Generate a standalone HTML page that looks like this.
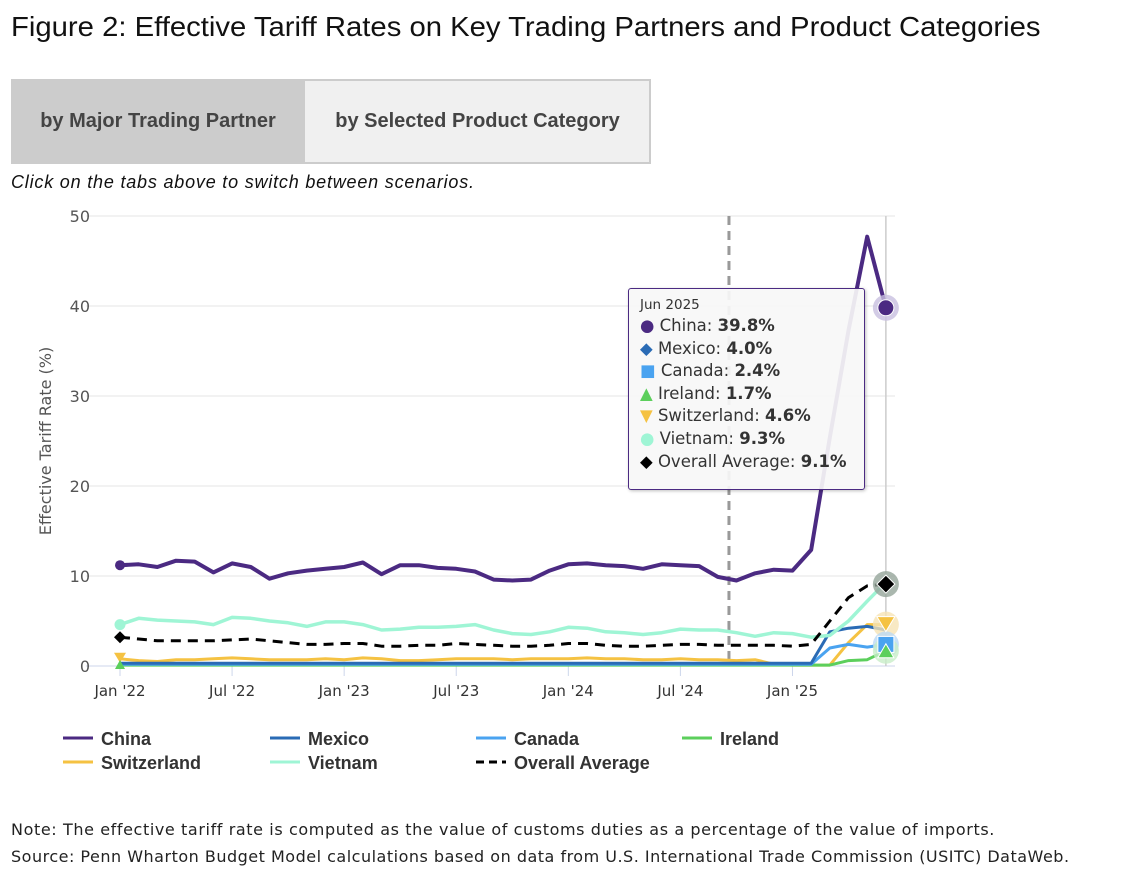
<!DOCTYPE html>
<html><head><meta charset="utf-8"><style>
body{margin:0;width:1138px;height:877px;background:#fff;font-family:"Liberation Sans",sans-serif;position:relative;overflow:hidden}
.abs{position:absolute}
</style></head><body>
<div class="abs" style="left:11px;top:11px;font-size:28px;color:#111;white-space:nowrap;transform:scaleX(1.045);transform-origin:left top">Figure 2: Effective Tariff Rates on Key Trading Partners and Product Categories</div>
<div class="abs" style="left:11px;top:79px;width:636px;height:81px;border:2px solid #ccc;background:#f0f0f0"></div>
<div class="abs" style="left:11px;top:79px;width:294px;height:85px;background:#ccc;font-size:20px;font-weight:bold;color:#444;line-height:85px;text-align:center">by Major Trading Partner</div>
<div class="abs" style="left:305px;top:79px;width:345px;height:85px;font-size:20px;font-weight:bold;color:#444;line-height:85px;text-align:center">by Selected Product Category</div>
<div class="abs" style="left:11px;top:172px;font-size:18px;letter-spacing:0.8px;font-style:italic;color:#111">Click on the tabs above to switch between scenarios.</div>
<svg class="abs" style="left:0;top:0" width="1138" height="877" id="chart"></svg>
<div class="abs" style="left:11px;top:820px;font-family:'DejaVu Sans',sans-serif;font-size:16px;letter-spacing:0.6px;color:#222;white-space:nowrap">Note: The effective tariff rate is computed as the value of customs duties as a percentage of the value of imports.</div>
<div class="abs" style="left:11px;top:847px;font-family:'DejaVu Sans',sans-serif;font-size:16px;letter-spacing:0.5px;color:#222;white-space:nowrap">Source: Penn Wharton Budget Model calculations based on data from U.S. International Trade Commission (USITC) DataWeb.</div>
<script>
const tickLabels=["Jan '22","Jul '22","Jan '23","Jul '23","Jan '24","Jul '24","Jan '25"];
const yTicks=[0,10,20,30,40,50];
const china=[11.2,11.3,11.0,11.7,11.6,10.4,11.4,11.0,9.7,10.3,10.6,10.8,11.0,11.5,10.2,11.2,11.2,10.9,10.8,10.5,9.6,9.5,9.6,10.6,11.3,11.4,11.2,11.1,10.8,11.3,11.2,11.1,9.9,9.5,10.3,10.7,10.6,12.9,25.4,37.3,47.7,39.8];
const mexico=[0.3,0.3,0.3,0.3,0.3,0.3,0.3,0.3,0.3,0.3,0.3,0.3,0.3,0.3,0.3,0.3,0.3,0.3,0.3,0.3,0.3,0.3,0.3,0.3,0.3,0.3,0.3,0.3,0.3,0.3,0.3,0.3,0.3,0.3,0.3,0.3,0.3,0.3,3.8,4.2,4.4,4.0];
const canada=[0.2,0.2,0.2,0.2,0.2,0.2,0.2,0.2,0.2,0.2,0.2,0.2,0.2,0.2,0.2,0.2,0.2,0.2,0.2,0.2,0.2,0.2,0.2,0.2,0.2,0.2,0.2,0.2,0.2,0.2,0.2,0.2,0.2,0.2,0.2,0.2,0.2,0.2,2.0,2.4,2.1,2.4];
const ireland=[0.1,0.1,0.1,0.1,0.1,0.1,0.1,0.1,0.1,0.1,0.1,0.1,0.1,0.1,0.1,0.1,0.1,0.1,0.1,0.1,0.1,0.1,0.1,0.1,0.1,0.1,0.1,0.1,0.1,0.1,0.1,0.1,0.1,0.1,0.1,0.1,0.1,0.1,0.1,0.6,0.7,1.7];
const switzerland=[0.8,0.6,0.5,0.7,0.7,0.8,0.9,0.8,0.7,0.7,0.7,0.8,0.7,0.9,0.8,0.6,0.6,0.7,0.8,0.8,0.8,0.7,0.8,0.8,0.8,0.9,0.8,0.8,0.7,0.7,0.8,0.7,0.7,0.6,0.7,0.2,0.1,0.1,0.1,2.6,4.6,4.6];
const vietnam=[4.6,5.3,5.1,5.0,4.9,4.6,5.4,5.3,5.0,4.8,4.4,4.9,4.9,4.6,4.0,4.1,4.3,4.3,4.4,4.6,4.0,3.6,3.5,3.8,4.3,4.2,3.8,3.7,3.5,3.7,4.1,4.0,4.0,3.7,3.3,3.7,3.6,3.2,3.4,5.0,7.2,9.3];
const overall=[3.2,3.0,2.8,2.8,2.8,2.8,2.9,3.0,2.8,2.6,2.4,2.4,2.5,2.5,2.2,2.2,2.3,2.3,2.5,2.4,2.3,2.2,2.2,2.3,2.5,2.5,2.3,2.2,2.2,2.3,2.4,2.4,2.3,2.3,2.3,2.3,2.2,2.4,5.0,7.6,8.9,9.1];
const NS='http://www.w3.org/2000/svg';
const svg=document.getElementById('chart');
const X=i=>120+i*18.68;
const Y=v=>666-v*9;
function el(tag,a,parent){const e=document.createElementNS(NS,tag);for(const k in a)e.setAttribute(k,a[k]);(parent||svg).appendChild(e);return e;}
yTicks.forEach(t=>{
 const g=el('line',{x1:86,x2:895,y1:Y(t),y2:Y(t),stroke:t===0?'#ccd6eb':'#e6e6e6','stroke-width':1});
 
 
 const tx=el('text',{x:90,y:Y(t)+6,'text-anchor':'end','font-size':16,fill:'#555','font-family':'DejaVu Sans, sans-serif'});tx.textContent=t;
 
 
});
tickLabels.forEach((l,i)=>{
 const x=X(i*6);
 el('line',{x1:x,x2:x,y1:666,y2:676,stroke:'#ccd6eb'});
 const tx=el('text',{x:x,y:696,'text-anchor':'middle','font-size':15,fill:'#333','font-family':'DejaVu Sans, sans-serif'});tx.textContent=l;
 
 
});
const yt=el('text',{transform:'translate(51,441) rotate(-90)','text-anchor':'middle','font-size':16,fill:'#555','font-family':'DejaVu Sans, sans-serif'});yt.textContent='Effective Tariff Rate (%)';


el('line',{x1:X(41),x2:X(41),y1:216,y2:666,stroke:'#ccc','stroke-width':1.5});
const vl=el('line',{x1:X(32.6),x2:X(32.6),y1:216,y2:666,stroke:'#999','stroke-width':3,'stroke-dasharray':'9,6'});


const series=[
 ['switzerland',switzerland,'#f5c242',3,null],
 ['ireland',ireland,'#5ccf5c',3,null],
 ['canada',canada,'#4aa3f0',3,null],
 ['mexico',mexico,'#2a6bb5',3,null],
 ['vietnam',vietnam,'#9ff5d5',3.5,null],
 ['overall-average',overall,'#000',3,'10,7'],
 ['china',china,'#4b2a82',4,null]];
series.forEach(s=>{
 const p=el('path',{d:s[1].map((v,i)=>(i?'L':'M')+X(i)+','+Y(v)).join(''),fill:'none',stroke:s[2],'stroke-width':s[3],'stroke-linejoin':'round'});
 if(s[4])p.setAttribute('stroke-dasharray',s[4]);
 
 
});
el('circle',{cx:X(0),cy:Y(china[0]),r:5,fill:'#4b2a82'});
el('circle',{cx:X(0),cy:Y(vietnam[0]),r:5.5,fill:'#9ff5d5'});
el('path',{d:`M${X(0)-6},${Y(overall[0])}l6,-6l6,6l-6,6z`,fill:'#000'});
el('path',{d:`M${X(0)-6},${Y(switzerland[0])-6}h12l-6,10z`,fill:'#f5c242'});
el('path',{d:`M${X(0)-5},${Y(0)+3}h10l-5,-9z`,fill:'#5ccf5c'});
const ex=X(41);
[[china[41],'#c8bfe0'],[overall[41],'#95a59a'],[switzerland[41],'#f6e3b5'],[canada[41],'#bcd9f5'],[ireland[41],'#c8edc8']].forEach(h=>el('circle',{cx:ex,cy:Y(h[0]),r:13,fill:h[1],opacity:0.8}));
el('circle',{cx:ex,cy:Y(china[41]),r:8,fill:'#4b2a82',stroke:'#fff','stroke-width':1});
el('path',{d:`M${ex-9},${Y(overall[41])}l9,-9l9,9l-9,9z`,fill:'#000',stroke:'#fff','stroke-width':1});
el('path',{d:`M${ex-9},${Y(switzerland[41])-8}h18l-9,15z`,fill:'#f5c242',stroke:'#fff'});
el('rect',{x:ex-8,y:Y(canada[41])-8,width:16,height:16,fill:'#4aa3f0',stroke:'#fff'});
el('path',{d:`M${ex-8},${Y(ireland[41])+7}h16l-8,-14z`,fill:'#5ccf5c',stroke:'#fff'});
const leg=[['China','#4b2a82',null,63,738],['Mexico','#2a6bb5',null,270,738],['Canada','#4aa3f0',null,476,738],['Ireland','#5ccf5c',null,682,738],['Switzerland','#f5c242',null,63,762],['Vietnam','#9ff5d5',null,270,762],['Overall Average','#000','8,5',476,762]];
leg.forEach(l=>{
 const g=el('g',{});
 
 
 const ln=el('line',{x1:l[3],x2:l[3]+30,y1:l[4],y2:l[4],stroke:l[1],'stroke-width':3},g);
 if(l[2])ln.setAttribute('stroke-dasharray',l[2]);
 const t=el('text',{x:l[3]+38,y:l[4]+7,'font-size':18,'font-weight':'bold',fill:'#333'},g);t.textContent=l[0];
});
</script>
<div class="abs" style="left:628px;top:288px;width:235px;height:200px;background:rgba(247,247,247,0.92);border:1.5px solid #4b2a82;border-radius:3px;font-family:'DejaVu Sans',sans-serif;font-size:16.5px;color:#333;box-shadow:1px 1px 3px rgba(0,0,0,.25);white-space:nowrap">
<div style="position:absolute;left:11px;top:8px;font-size:13.5px">Jun 2025</div>
<div style="position:absolute;left:11px;top:26px;line-height:22.6px">
<div><span style="color:#4b2a82">●</span> China: <b>39.8%</b></div>
<div><span style="color:#2a6bb5">◆</span> Mexico: <b>4.0%</b></div>
<div><span style="color:#4aa3f0">■</span> Canada: <b>2.4%</b></div>
<div><span style="color:#5ccf5c">▲</span> Ireland: <b>1.7%</b></div>
<div><span style="color:#f5c242">▼</span> Switzerland: <b>4.6%</b></div>
<div><span style="color:#9ff5d5">●</span> Vietnam: <b>9.3%</b></div>
<div><span style="color:#000">◆</span> Overall Average: <b>9.1%</b></div>
</div></div>
</body></html>
